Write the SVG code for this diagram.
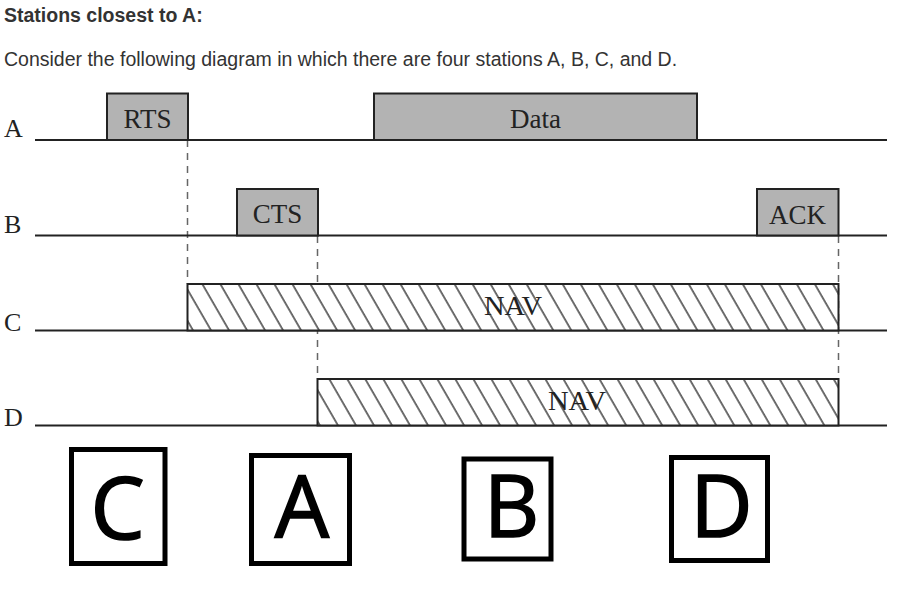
<svg xmlns="http://www.w3.org/2000/svg" width="908" height="598" viewBox="0 0 908 598">
<style>
.hd{font-family:"Liberation Sans",Arial,sans-serif;font-size:19.5px;fill:#333}
.lbl{font-family:"Liberation Serif","Times New Roman",serif;font-size:26px;fill:#222}
.bx{font-family:"Liberation Serif","Times New Roman",serif;font-size:27px;fill:#222;text-anchor:middle}
.axis{stroke:#222;stroke-width:2;fill:none}
.frame{fill:#b3b3b3;stroke:#222;stroke-width:2}
.nav{fill:url(#hatch);stroke:#222;stroke-width:2}
.dash{stroke:#666;stroke-width:1.5;stroke-dasharray:7,6;fill:none}
.ans{fill:#fff;stroke:#000;stroke-width:5}
.big{font-family:"Open Sans","Noto Sans",sans-serif;font-size:86px;fill:#000;stroke:#000;stroke-width:1.6;text-anchor:middle}
</style>
<defs>
<pattern id="hatch" patternUnits="userSpaceOnUse" width="15.6" height="15.6" patternTransform="rotate(-30)">
<rect width="15.6" height="15.6" fill="#fff"/>
<line x1="2" y1="-1" x2="2" y2="17" stroke="#222" stroke-width="1.3"/>
</pattern>
</defs>
<rect width="908" height="598" fill="#fff"/>
<text class="hd" x="4" y="22" font-weight="bold">Stations closest to A:</text>
<text class="hd" x="4" y="66">Consider the following diagram in which there are four stations A, B, C, and D.</text>

<g id="connectors">
<line class="dash" x1="187.5" y1="140" x2="187.5" y2="284"/>
<line class="dash" x1="317.5" y1="236" x2="317.5" y2="379"/>
<line class="dash" x1="838.5" y1="236" x2="838.5" y2="379"/>
</g>

<g id="stationA">
<text class="lbl" x="4" y="137">A</text>
<line class="axis" x1="35" y1="140" x2="887" y2="140"/>
</g>
<g id="stationB">
<text class="lbl" x="4" y="233">B</text>
<line class="axis" x1="35" y1="235.5" x2="887" y2="235.5"/>
</g>
<g id="stationC">
<text class="lbl" x="4" y="331">C</text>
<line class="axis" x1="35" y1="330.5" x2="887" y2="330.5"/>
</g>
<g id="stationD">
<text class="lbl" x="4" y="426">D</text>
<line class="axis" x1="35" y1="425.5" x2="887" y2="425.5"/>
</g>

<g id="rts">
<rect class="frame" x="107" y="93.5" width="81" height="46.5"/>
<text class="bx" x="147.5" y="128">RTS</text>
</g>
<g id="data">
<rect class="frame" x="374" y="93.5" width="323" height="46.5"/>
<text class="bx" x="535.5" y="128">Data</text>
</g>
<g id="cts">
<rect class="frame" x="237" y="189" width="81" height="46.5"/>
<text class="bx" x="277.5" y="223">CTS</text>
</g>
<g id="ack">
<rect class="frame" x="757" y="189" width="81.5" height="46.5"/>
<text class="bx" x="797.5" y="224">ACK</text>
</g>
<g id="navC">
<rect class="nav" x="187.5" y="284" width="651" height="46.5"/>
<text class="bx" x="513" y="315" textLength="58" lengthAdjust="spacingAndGlyphs">NAV</text>
</g>
<g id="navD">
<rect class="nav" x="317.5" y="379" width="521" height="46.5"/>
<text class="bx" x="577" y="410" textLength="58" lengthAdjust="spacingAndGlyphs">NAV</text>
</g>

<g id="ansC">
<rect class="ans" x="71.5" y="449.5" width="93.5" height="114"/>
<text class="big" x="117.5" y="539">C</text>
</g>
<g id="ansA">
<rect class="ans" x="251.5" y="455.5" width="98" height="108"/>
<text class="big" x="302" y="538">A</text>
</g>
<g id="ansB">
<rect class="ans" x="464" y="459" width="87" height="100"/>
<text class="big" x="511.5" y="537">B</text>
</g>
<g id="ansD">
<rect class="ans" x="671.5" y="457.5" width="96" height="103"/>
<text class="big" x="721.5" y="537">D</text>
</g>
</svg>
